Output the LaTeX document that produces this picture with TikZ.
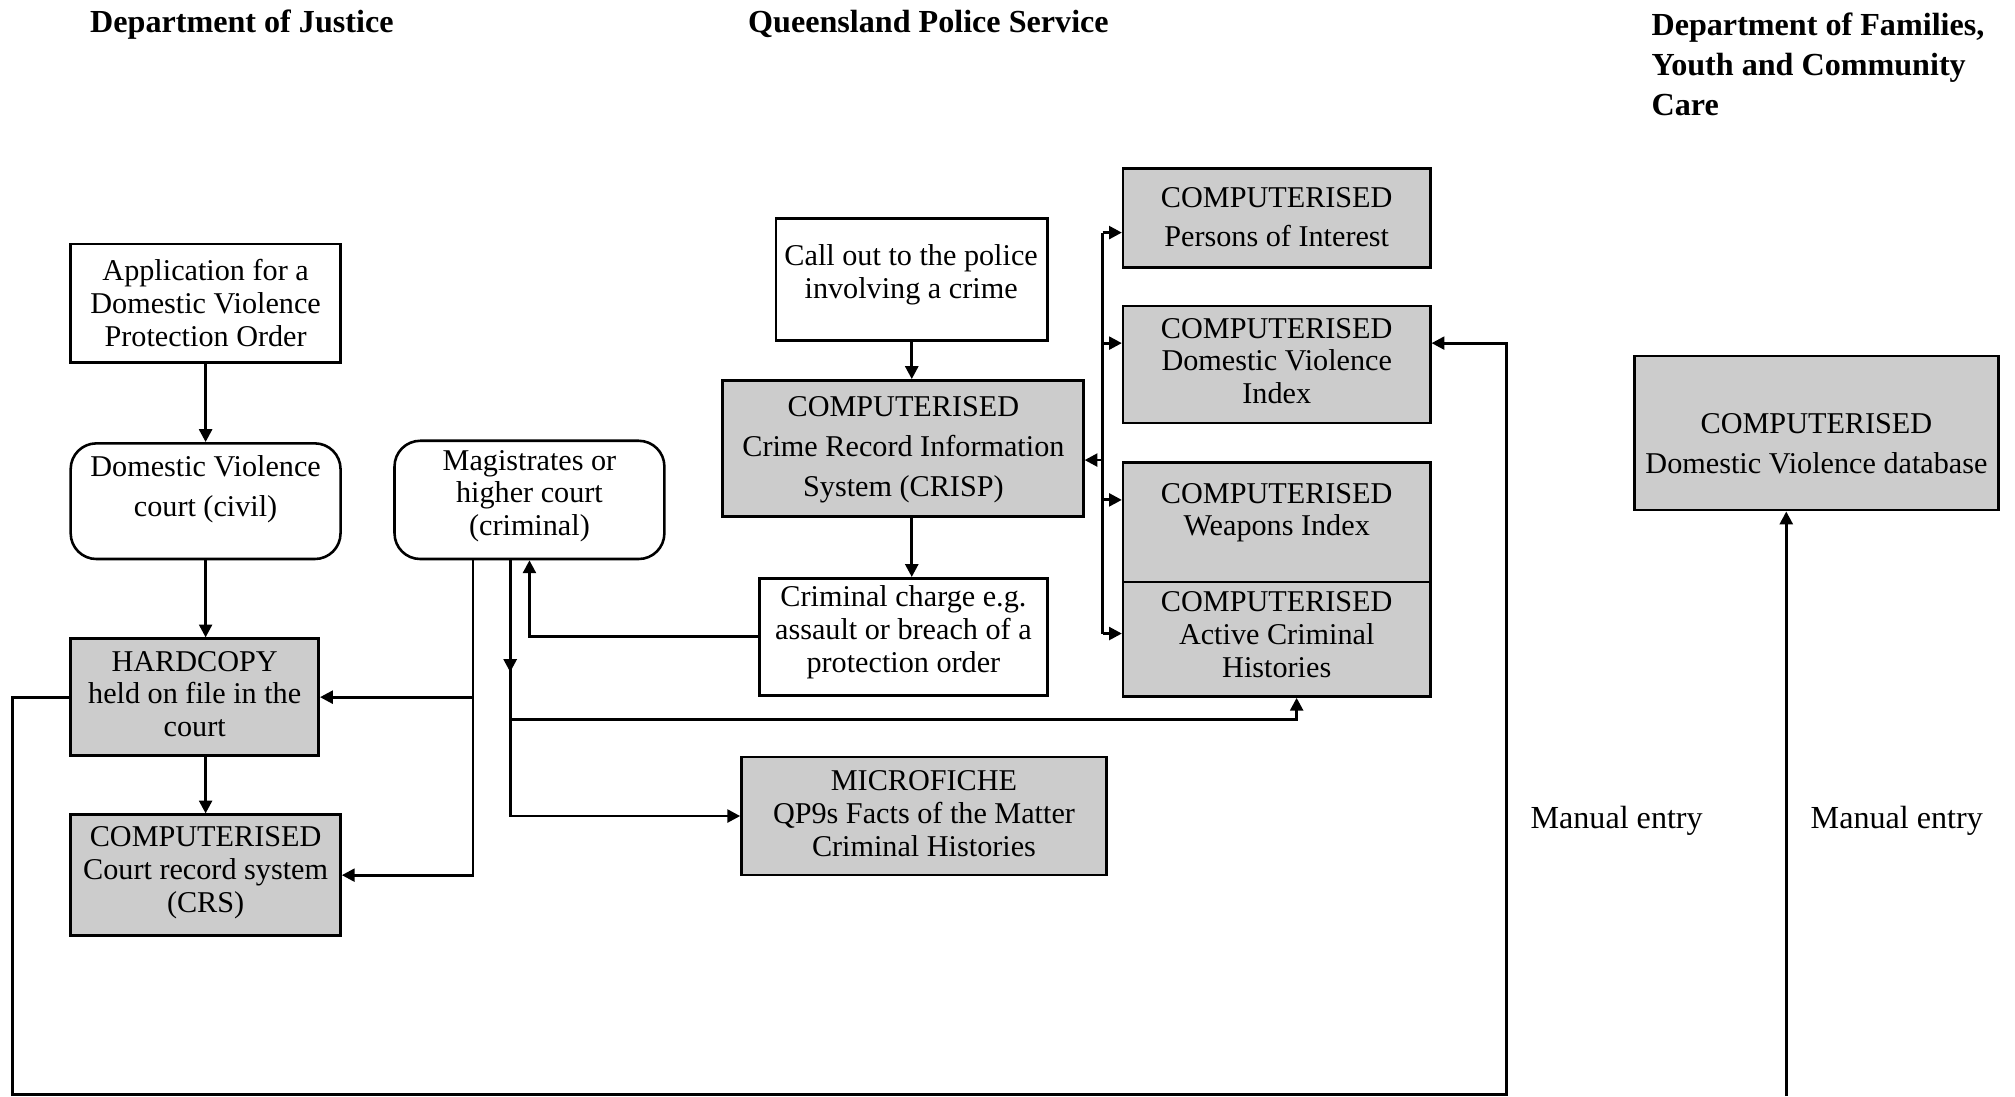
\documentclass[tikz,border=0pt]{standalone}
\usepackage{fontspec}
\setmainfont{Liberation Serif}
\usetikzlibrary{arrows.meta,calc}
\newcommand\bxfont{\fontsize{23.5}{25.5}\selectfont}
\newcommand\bxfontw{\fontsize{23.5}{31}\selectfont}
\newcommand\hdfont{\fontsize{25}{31}\selectfont\bfseries}
\begin{document}
\begin{tikzpicture}[x=1pt,y=-1pt,
  box/.style={draw,line width=2pt,inner sep=0pt,fill=white},
  shadebox/.style={box,fill=black!20},
  rbox/.style={box,rounded corners=20pt},
  txt/.style={align=center,font=\bxfont,inner sep=0pt},
  txtw/.style={align=center,font=\bxfontw,inner sep=0pt},
  hd/.style={font=\hdfont,inner sep=0pt,align=left},
  lbl/.style={font=\fontsize{25}{30}\selectfont,inner sep=0pt},
  ln/.style={line width=2.2pt},
  arr/.style={line width=2.2pt,-{Triangle[length=10pt,width=10pt]}}]
\useasboundingbox (0,0) rectangle (1568,853);

% headings
\node[hd,anchor=west] (h1) at (70,19) {Department of Justice};
\node[hd,anchor=west] (h2) at (582,19) {Queensland Police Service};
\node[hd,anchor=north west] (h3) at (1285,10) {Department of Families,\\Youth and Community\\Care};

% boxes
\node[box,minimum width=210,minimum height=92] (app) at (160,236) {};
\node[rbox,minimum width=210,minimum height=90] (dvc) at (160,390) {};
\node[rbox,minimum width=210,minimum height=92] (mag) at (412,389) {};
\node[shadebox,minimum width=193,minimum height=91] (hard) at (151.5,542.5) {};
\node[shadebox,minimum width=210,minimum height=94] (crs) at (160,681) {};
\node[box,minimum width=211,minimum height=95] (call) at (709.5,217.5) {};
\node[shadebox,minimum width=281,minimum height=106] (crisp) at (702.5,349) {};
\node[box,minimum width=224,minimum height=91] (charge) at (703,495.5) {};
\node[shadebox,minimum width=284,minimum height=92] (micro) at (719,635) {};
\node[shadebox,minimum width=239,minimum height=77] (poi) at (993.5,169.5) {};
\node[shadebox,minimum width=239,minimum height=91] (dvi) at (993.5,283.5) {};
\node[shadebox,minimum width=239,minimum height=93] (weap) at (993.5,406.5) {};
\node[shadebox,minimum width=239,minimum height=89] (ach) at (993.5,497.5) {};
\node[shadebox,minimum width=283,minimum height=120] (dvdb) at (1413.5,337) {};

% texts
\node[txt] (tapp) at (160,236) {Application for a\\Domestic Violence\\Protection Order};
\node[txtw] (tdvc) at (160,381) {Domestic Violence\\court (civil)};
\node[txt] (tmag) at (412,386) {Magistrates or\\higher court\\(criminal)};
\node[txt] (thard) at (151.5,540) {HARDCOPY\\held on file in the\\court};
\node[txt] (tcrs) at (160,679) {COMPUTERISED\\Court record system\\(CRS)};
\node[txt] (tcall) at (709,214) {Call out to the police\\involving a crime};
\node[txtw] (tcrisp) at (703,350) {COMPUTERISED\\Crime Record Information\\System (CRISP)};
\node[txt] (tcharge) at (703,492) {Criminal charge e.g.\\assault or breach of a\\protection order};
\node[txt] (tmicro) at (719,633) {MICROFICHE\\QP9s Facts of the Matter\\Criminal Histories};
\node[txtw] (tpoi) at (993.5,169) {COMPUTERISED\\Persons of Interest};
\node[txt] (tdvi) at (993.5,281) {COMPUTERISED\\Domestic Violence\\Index};
\node[txt] (tweap) at (993.5,399) {COMPUTERISED\\Weapons Index};
\node[txt] (tach) at (993.5,494) {COMPUTERISED\\Active Criminal\\Histories};
\node[txtw] (tdvdb) at (1413.5,345) {COMPUTERISED\\Domestic Violence database};

\node[lbl] (me1) at (1258,639) {Manual entry};
\node[lbl] (me2) at (1476,639) {Manual entry};

% connectors - Department of Justice
\draw[arr] (app.south) -- (dvc.north);
\draw[arr] (dvc.south) -- (dvc.south |- hard.north);
\draw[arr] (crs.north |- hard.south) -- (crs.north);

\coordinate (m1) at ($(mag.south)+(-44,0)$);
\coordinate (m2) at ($(mag.south)+(-15,0)$);
\draw[arr] (m1) |- (hard.east);
\draw[arr] (m1) |- (crs.east);
\draw[arr] (m2) -- ($(m2)+(0,87)$);
\draw[arr] (m2) |- (micro.west);
\draw[arr] ($(m2)+(0,124)$) -| ($(ach.south)+(15.5,0)$);
\draw[arr] (charge.west) -| (mag.south);

% police
\draw[arr] (call.south) -- (call.south |- crisp.north);
\draw[arr] (crisp.south -| call.south) -- (charge.north -| call.south);

\coordinate (b1) at (858,181);
\coordinate (b2) at (858,267);
\coordinate (bc) at (858,358);
\coordinate (b3) at (858,389);
\coordinate (b4) at (858,493);
\draw[ln] (b1) -- (b4);
\draw[arr] (b1) -- (b1 -| poi.west);
\draw[arr] (b2) -- (b2 -| dvi.west);
\draw[arr] (b3) -- (b3 -| weap.west);
\draw[arr] (b4) -- (b4 -| ach.west);
\draw[arr] (bc) -- (bc -| crisp.east);

% long loop from hardcopy to DV index
\coordinate (l1) at (10,852);
\coordinate (l2) at (1172,852);
\draw[arr] (hard.west) -| (l1) -- (l2) |- ($(dvi.east)+(0,-16.5)$);

% DV database manual entry
\coordinate (d0) at (1390,853);
\draw[arr] (d0) -- (d0 |- dvdb.south);
\end{tikzpicture}
\end{document}
